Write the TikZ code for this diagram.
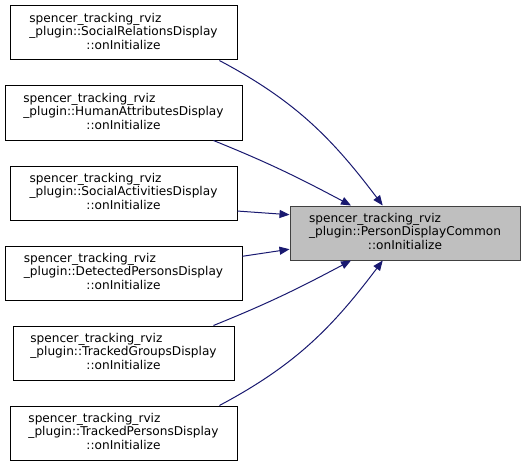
\documentclass[tikz,border=0pt]{standalone}
\usepackage{fontspec}
\setmainfont{DejaVu Sans}
\usetikzlibrary{arrows.meta}

\definecolor{callblue}{HTML}{191970}
\definecolor{curgray}{HTML}{BFBFBF}
\definecolor{curborder}{HTML}{404040}

% three line label of a member function
\newcommand{\memberlabel}[1]{%
  \begin{tabular}{@{}l@{}}
    spencer\_tracking\_rviz\\
    \_plugin::#1\\
    \multicolumn{1}{@{}c@{}}{::onInitialize}
  \end{tabular}}

\begin{document}
\begin{tikzpicture}[x=0.75pt, y=0.75pt,
    fnbox/.style={draw=black, line width=0.75pt, fill=white,
      minimum height=40.5pt, inner sep=0pt,
      font=\fontsize{9.1}{10.1}\selectfont},
    curbox/.style={fnbox, draw=curborder, fill=curgray},
    calledge/.style={draw=callblue, line width=0.75pt,
      -{Triangle[length=7.5pt, width=6pt]}}]
    \useasboundingbox (0,0) rectangle (525,-467);

    % Place the callers
    \node[fnbox, minimum width=170.25pt] (relations)  at (123.5,-33)  {\memberlabel{SocialRelationsDisplay}};
    \node[fnbox, minimum width=177.75pt] (attributes) at (123.5,-113) {\memberlabel{HumanAttributesDisplay}};
    \node[fnbox, minimum width=170.25pt] (activities) at (123.5,-193) {\memberlabel{SocialActivitiesDisplay}};
    \node[fnbox, minimum width=177.75pt] (detected)   at (123.5,-273) {\memberlabel{DetectedPersonsDisplay}};
    \node[fnbox, minimum width=165.75pt] (groups)     at (123.5,-353) {\memberlabel{TrackedGroupsDisplay}};
    \node[fnbox, minimum width=170.25pt] (tracked)    at (123.5,-433) {\memberlabel{TrackedPersonsDisplay}};

    % Place the called function
    \node[curbox, minimum width=172.5pt] (common) at (405,-233) {\memberlabel{PersonDisplayCommon}};

    % Draw the calls
    \draw[calledge] (relations.-16) to[out=-28, in=127] (common.129);
    \draw[calledge] (attributes.-17) to[out=-22, in=152] (common.153);
    \draw[calledge] (activities.-9) -- (common.171.6);
    \draw[calledge] (detected.8.6) -- (common.188.4);
    \draw[calledge] (groups.17) to[out=22, in=-152] (common.207);
    \draw[calledge] (tracked.16) to[out=28, in=-127] (common.231);
\end{tikzpicture}
\end{document}
